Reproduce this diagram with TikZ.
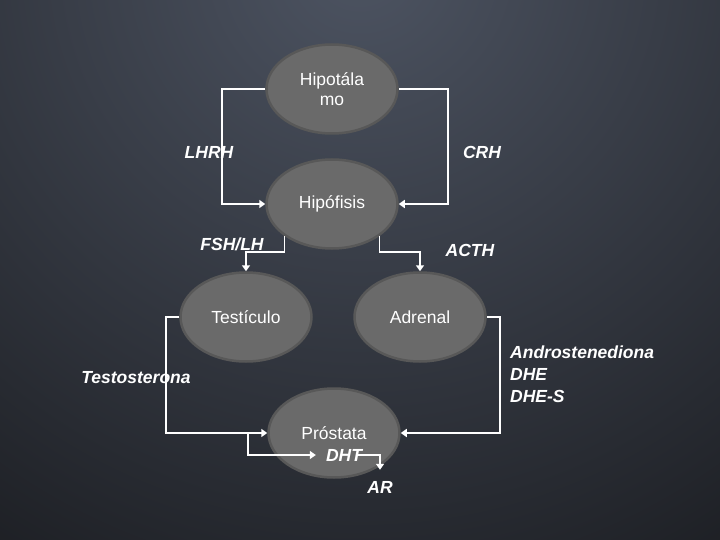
\documentclass[tikz,border=0pt]{standalone}
\usepackage{fontspec}
\setmainfont{Liberation Sans}
\usetikzlibrary{shapes,arrows.meta,positioning}
\definecolor{bginner}{HTML}{4D5462}
\definecolor{bgouter}{HTML}{131417}
\definecolor{organfill}{HTML}{6A6A6A}
\definecolor{organline}{HTML}{585858}

\begin{document}
\begin{tikzpicture}[x=1pt,y=-1pt,
    organ/.style={ellipse,draw=organline,line width=2.5pt,fill=organfill,text=white,inner sep=0pt,
      minimum width=131pt,minimum height=89pt,align=center,font=\fontsize{17.5}{20}\selectfont},
    hormone/.style={text=white,inner sep=2pt,font=\fontsize{17.5}{22}\selectfont\bfseries\itshape},
    flow/.style={draw=white,line width=1.8pt,-{Triangle[length=6pt,width=8pt]}}]
    \useasboundingbox (0,0) rectangle (720,540);
    \begin{scope}
      \clip (0,0) rectangle (720,540);
      \fill[bgouter] (0,0) rectangle (720,540);
      \shade[inner color=bginner,outer color=bgouter] (360,-40) circle (850pt);
    \end{scope}

          \node[organ] (hipot) at (332,89) {Hipotála\\mo};
          \node[organ] (hipof) at (332,204) {Hipófisis};
          \node[organ] (testi) at (246,317) {Testículo};
          \node[organ] (adren) at (420,317) {Adrenal};
          \node[organ] (prost) at (334,433) {Próstata};
          \node[hormone,inner sep=0pt] (dht) at (344,455) {DHT};
          \node[hormone] (ar) at (380,487) {AR};
          \coordinate (split) at (248,433);

          \draw[flow] (hipot.west) -- ++(-43,0) |- (hipof.west);
          \draw[flow] (hipot.east) -- ++(49,0) |- (hipof.east);
          \draw[flow] (hipof.214) -- ++(0,16) -| (testi.north);
          \draw[flow] (hipof.326) -- ++(0,16) -| (adren.north);
          \draw[flow] (testi.west) -- ++(-13,0) |- (prost.west);
          \draw[flow] (adren.east) -- ++(13,0) |- (prost.east);
          \draw[flow,shorten >=10pt] (split) |- (dht.west);
          \draw[flow,shorten >=9pt] ([xshift=-6pt]dht.east) -| (ar.north);

          \node[hormone] (lhrh) at (209,152) {LHRH};
          \node[hormone] (crh) at (482,152) {CRH};
          \node[hormone] (fsh) at (232,244) {FSH/LH};
          \node[hormone] (acth) at (470,250) {ACTH};
          \node[hormone] (testo) at (136,378) {Testosterona};
          \node[hormone,align=left,anchor=west] (andro) at (508,374) {Androstenediona\\DHE\\DHE-S};
    \end{tikzpicture}
\end{document}
